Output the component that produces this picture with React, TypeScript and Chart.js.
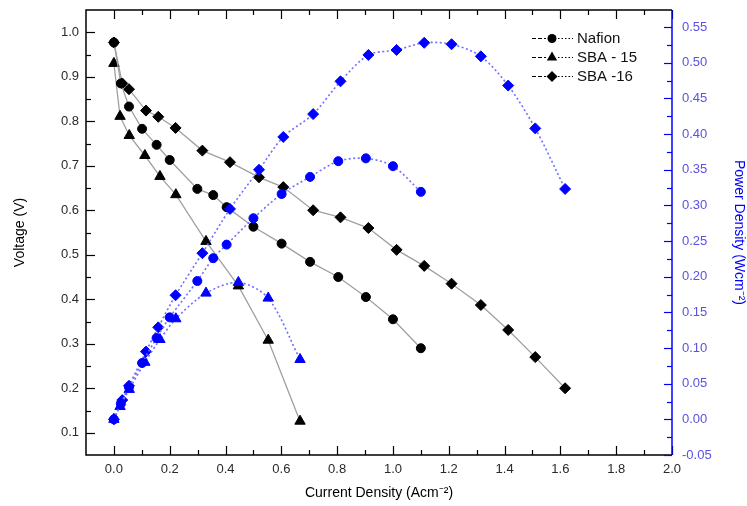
import React, { useEffect, useRef } from 'react';
import { Chart, registerables } from 'chart.js';
Chart.register(...registerables);

// ---- data ----
const nafionCurrent = [0, 0.025, 0.054, 0.101, 0.153, 0.2, 0.299, 0.356, 0.404, 0.5, 0.601, 0.703, 0.804, 0.903, 1.0, 1.1];
const nafionVoltage = [0.977, 0.885, 0.833, 0.783, 0.747, 0.713, 0.648, 0.634, 0.607, 0.563, 0.525, 0.484, 0.45, 0.405, 0.355, 0.29];
const nafionPower = [0, 0.022, 0.045, 0.079, 0.114, 0.143, 0.194, 0.226, 0.245, 0.282, 0.316, 0.34, 0.362, 0.366, 0.355, 0.319];

const sba15Current = [0, 0.022, 0.055, 0.111, 0.165, 0.222, 0.33, 0.446, 0.553, 0.667];
const sba15Voltage = [0.93, 0.811, 0.768, 0.723, 0.676, 0.635, 0.53, 0.43, 0.308, 0.126];
const sba15Power = [0, 0.018, 0.042, 0.08, 0.112, 0.141, 0.177, 0.192, 0.17, 0.084];

const sba16Current = [0, 0.03, 0.054, 0.115, 0.159, 0.221, 0.317, 0.416, 0.52, 0.607, 0.714, 0.812, 0.912, 1.013, 1.112, 1.21, 1.315, 1.413, 1.51, 1.617];
const sba16Voltage = [0.977, 0.885, 0.872, 0.824, 0.81, 0.785, 0.734, 0.708, 0.674, 0.652, 0.6, 0.584, 0.56, 0.511, 0.475, 0.435, 0.387, 0.331, 0.27, 0.2];
const sba16Power = [0, 0.027, 0.047, 0.095, 0.129, 0.174, 0.233, 0.295, 0.35, 0.396, 0.428, 0.474, 0.511, 0.518, 0.528, 0.526, 0.509, 0.468, 0.408, 0.323];

const seriesNames = ['Nafion', 'SBA - 15', 'SBA -16'];
const seriesMarkers = ['circle', 'triangle', 'rectRot'];

const xTickLabels = [0, 0.2, 0.4, 0.6, 0.8, 1.0, 1.2, 1.4, 1.6, 1.8, 2.0];
const yTickLabels = [0.1, 0.2, 0.3, 0.4, 0.5, 0.6, 0.7, 0.8, 0.9, 1.0];
const y2TickLabels = [-0.05, 0, 0.05, 0.1, 0.15, 0.2, 0.25, 0.3, 0.35, 0.4, 0.45, 0.5, 0.55];

const FONT = 'Arial, "Liberation Sans", sans-serif';

const pts = (xs: number[], ys: number[]) => xs.map((x, i) => ({ x, y: ys[i] }));
const mids = (arr: number[]) => arr.slice(0, -1).map((v, i) => (v + arr[i + 1]) / 2);

const markerRadius: Record<string, number> = { circle: 4.5, triangle: 6, rectRot: 5.5 };

function drawMarker(ctx: CanvasRenderingContext2D, style: string, x: number, y: number) {
  const r = markerRadius[style];
  ctx.beginPath();
  if (style === 'circle') {
    ctx.arc(x, y, r, 0, Math.PI * 2);
  } else if (style === 'triangle') {
    const h = r * 1.5;
    ctx.moveTo(x, y - r);
    ctx.lineTo(x + r * 0.866, y + r * 0.5);
    ctx.lineTo(x - r * 0.866, y + r * 0.5);
    ctx.closePath();
    void h;
  } else {
    ctx.moveTo(x, y - r);
    ctx.lineTo(x + r, y);
    ctx.lineTo(x, y + r);
    ctx.lineTo(x - r, y);
    ctx.closePath();
  }
  ctx.fill();
}

const framePlugin = {
  id: 'frameTicks',
  beforeDatasetsDraw(chart: any) {
    const { ctx, chartArea: a, scales } = chart;
    const xs = scales.x, ys = scales.y, y2 = scales.y2;
    ctx.save();
    ctx.lineWidth = 1.5;
    // black frame: left, bottom, top
    ctx.strokeStyle = '#000';
    ctx.beginPath();
    ctx.moveTo(a.right, a.top);
    ctx.lineTo(a.left, a.top);
    ctx.lineTo(a.left, a.bottom);
    ctx.lineTo(a.right, a.bottom);
    ctx.stroke();
    // x ticks (bottom & top)
    ctx.lineWidth = 1.2;
    const xt = (v: number, len: number) => {
      const px = Math.round(xs.getPixelForValue(v)) + 0.5;
      ctx.beginPath();
      ctx.moveTo(px, a.bottom);
      ctx.lineTo(px, a.bottom - len);
      ctx.moveTo(px, a.top);
      ctx.lineTo(px, a.top + len);
      ctx.stroke();
    };
    xTickLabels.forEach((v) => xt(v, 9));
    mids(xTickLabels).forEach((v) => xt(v, 5));
    // left ticks
    const yt = (v: number, len: number) => {
      const py = Math.round(ys.getPixelForValue(v)) + 0.5;
      ctx.beginPath();
      ctx.moveTo(a.left, py);
      ctx.lineTo(a.left + len, py);
      ctx.stroke();
    };
    yTickLabels.forEach((v) => yt(v, 9));
    mids(yTickLabels).forEach((v) => yt(v, 5));
    // right blue axis
    ctx.strokeStyle = '#0000ff';
    ctx.lineWidth = 1.5;
    ctx.beginPath();
    ctx.moveTo(a.right, a.top);
    ctx.lineTo(a.right, a.bottom);
    ctx.stroke();
    ctx.lineWidth = 1.2;
    const rt = (v: number, len: number) => {
      const py = Math.round(y2.getPixelForValue(v)) + 0.5;
      ctx.beginPath();
      ctx.moveTo(a.right, py);
      ctx.lineTo(a.right - len, py);
      ctx.stroke();
    };
    y2TickLabels.forEach((v) => rt(v, 8));
    mids(y2TickLabels).forEach((v) => rt(v, 5));
    ctx.restore();
  },
  afterDraw(chart: any) {
    const { ctx } = chart;
    ctx.save();
    const rowsY = [38, 57, 76];
    seriesNames.forEach((name, i) => {
      const y = rowsY[i];
      ctx.strokeStyle = '#000';
      ctx.lineWidth = 1;
      ctx.setLineDash([4, 2]);
      ctx.beginPath();
      ctx.moveTo(532, y + 0.5);
      ctx.lineTo(546, y + 0.5);
      ctx.stroke();
      ctx.setLineDash([1.5, 2]);
      ctx.beginPath();
      ctx.moveTo(558, y + 0.5);
      ctx.lineTo(573, y + 0.5);
      ctx.stroke();
      ctx.setLineDash([]);
      ctx.fillStyle = '#000';
      drawMarker(ctx, seriesMarkers[i], 552, y + 0.5);
      ctx.font = `15px ${FONT}`;
      ctx.textBaseline = 'middle';
      ctx.textAlign = 'left';
      ctx.fillStyle = '#111';
      ctx.fillText(name, 577, y + 1);
    });
    ctx.restore();
  },
};

export default function App() {
  const ref = useRef<HTMLCanvasElement>(null);
  useEffect(() => {
    if (!ref.current) return;
    const voltage = [
      [nafionCurrent, nafionVoltage],
      [sba15Current, sba15Voltage],
      [sba16Current, sba16Voltage],
    ];
    const power = [
      [nafionCurrent, nafionPower],
      [sba15Current, sba15Power],
      [sba16Current, sba16Power],
    ];
    const datasets: any[] = [];
    power.forEach(([xs, ys], i) => {
      datasets.push({
        label: seriesNames[i] + ' power',
        data: pts(xs, ys),
        yAxisID: 'y2',
        order: 0,
        borderColor: '#7070ff',
        borderWidth: 1.6,
        borderDash: [2, 2.5],
        tension: 0.3,
        pointStyle: seriesMarkers[i],
        pointRadius: markerRadius[seriesMarkers[i]],
        pointBackgroundColor: '#0000ff',
        pointBorderColor: '#0000ff',
        pointBorderWidth: 1,
      });
    });
    voltage.forEach(([xs, ys], i) => {
      datasets.push({
        label: seriesNames[i],
        data: pts(xs, ys),
        yAxisID: 'y',
        order: 1,
        borderColor: '#a0a0a0',
        borderWidth: 1.3,
        tension: 0,
        pointStyle: seriesMarkers[i],
        pointRadius: markerRadius[seriesMarkers[i]],
        pointBackgroundColor: '#000',
        pointBorderColor: '#000',
        pointBorderWidth: 1,
      });
    });
    const noPad = (s: any) => {
      s.paddingTop = 0; s.paddingBottom = 0; s.paddingLeft = 0; s.paddingRight = 0;
    };
    const chart = new Chart(ref.current, {
      type: 'line',
      data: { datasets },
      plugins: [framePlugin],
      options: {
        animation: false,
        responsive: false,
        maintainAspectRatio: false,
        layout: { padding: { top: 10, left: 0, right: 0, bottom: 0 } },
        plugins: { legend: { display: false }, tooltip: { enabled: false } },
        scales: {
          x: {
            type: 'linear',
            min: -0.1,
            max: 2.0,
            grid: { display: false, drawTicks: false },
            border: { display: false },
            afterBuildTicks: (s: any) => { s.ticks = xTickLabels.map((v) => ({ value: v })); },
            afterFit: (s: any) => { s.height = 51; noPad(s); },
            ticks: {
              autoSkip: false, maxRotation: 0, padding: 7, color: '#2a2a2a',
              font: { size: 13, family: FONT },
              callback: (v: any) => Number(v).toFixed(1),
            },
            title: {
              display: true, text: 'Current Density (Acm⁻²)', color: '#000',
              font: { size: 14, family: FONT }, padding: { top: 0, bottom: 4 },
            },
          },
          y: {
            type: 'linear',
            position: 'left',
            min: 0.05,
            max: 1.05,
            grid: { display: false, drawTicks: false },
            border: { display: false },
            afterBuildTicks: (s: any) => { s.ticks = yTickLabels.map((v) => ({ value: v })); },
            afterFit: (s: any) => { s.width = 86; noPad(s); },
            ticks: {
              autoSkip: false, padding: 7, color: '#2a2a2a',
              font: { size: 13, family: FONT },
              callback: (v: any) => Number(v).toFixed(1),
            },
            title: {
              display: true, text: 'Voltage (V)', color: '#000',
              font: { size: 14, family: FONT }, padding: { top: 12, bottom: 0 },
            },
          },
          y2: {
            type: 'linear',
            position: 'right',
            min: -0.05,
            max: 0.574,
            grid: { display: false, drawTicks: false },
            border: { display: false },
            afterBuildTicks: (s: any) => { s.ticks = y2TickLabels.map((v) => ({ value: v })); },
            afterFit: (s: any) => { s.width = 75; noPad(s); },
            ticks: {
              autoSkip: false, padding: 10, color: '#5a50e6',
              font: { size: 13, family: FONT },
              callback: (v: any) => Number(v).toFixed(2),
            },
            title: {
              display: true, text: 'Power Density (Wcm⁻²)', color: '#0000ff',
              font: { size: 14, family: FONT }, padding: { top: 0, bottom: 0 },
            },
          },
        },
      } as any,
    });
    return () => chart.destroy();
  }, []);
  return (
    <div style={{ position: 'fixed', left: 0, top: 0, width: 747, height: 506, background: '#fff' }}>
      <canvas ref={ref} width={747} height={506} style={{ width: 747, height: 506, display: 'block' }} />
    </div>
  );
}
